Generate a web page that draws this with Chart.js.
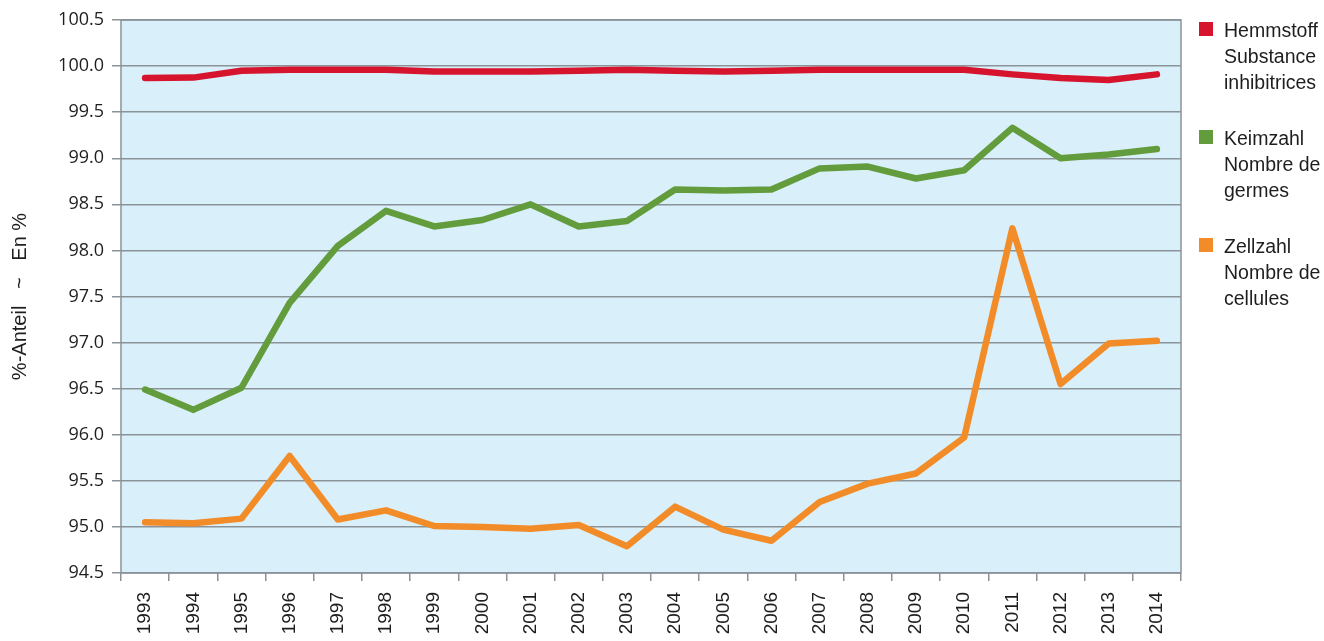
<!DOCTYPE html>
<html>
<head>
<meta charset="utf-8">
<script src="https://cdn.jsdelivr.net/npm/chart.js@4"></script>
<style>
html,body{margin:0;padding:0;background:#fff;}
#wrap{position:relative;width:1324px;height:641px;overflow:hidden;}
canvas{position:absolute;left:0;top:0;}
.lg{position:absolute;left:1199px;font-family:"Liberation Sans",Arial,sans-serif;font-size:19.5px;line-height:26px;color:#1e1e1e;}
.lg .sw{position:absolute;left:0;top:5px;width:14px;height:14px;}
.lg .tx{position:absolute;left:25px;top:0;white-space:nowrap;}
</style>
</head>
<body>
<div id="wrap">
<canvas id="c" width="1324" height="641"></canvas>
<div class="lg" style="top:17px"><div class="sw" style="background:#d7142e"></div><div class="tx">Hemmstoff<br>Substance<br>inhibitrices</div></div>
<div class="lg" style="top:125px"><div class="sw" style="background:#639c3d"></div><div class="tx">Keimzahl<br>Nombre de<br>germes</div></div>
<div class="lg" style="top:233px"><div class="sw" style="background:#f28c28"></div><div class="tx">Zellzahl<br>Nombre de<br>cellules</div></div>
</div>
<script>
const years = ["1993","1994","1995","1996","1997","1998","1999","2000","2001","2002","2003","2004","2005","2006","2007","2008","2009","2010","2011","2012","2013","2014"];
const hemmstoff = [99.87,99.875,99.95,99.96,99.96,99.96,99.94,99.94,99.94,99.95,99.96,99.95,99.94,99.95,99.96,99.96,99.96,99.96,99.91,99.87,99.85,99.91];
const keimzahl = [96.49,96.27,96.51,97.43,98.05,98.43,98.26,98.33,98.50,98.26,98.32,98.66,98.65,98.66,98.89,98.91,98.78,98.87,99.33,99.00,99.04,99.10];
const zellzahl = [95.05,95.04,95.09,95.77,95.08,95.18,95.01,95.00,94.98,95.02,94.79,95.22,94.97,94.85,95.27,95.47,95.58,95.97,98.24,96.55,96.99,97.02];
const seriesNames = ["Hemmstoff","Keimzahl","Zellzahl"];
const yMin = 94.5, yMax = 100.5, yStep = 0.5;

const bgPlugin = {
  id:'bg',
  beforeDraw(chart){
    const {ctx, chartArea:a} = chart;
    ctx.save();
    ctx.fillStyle = '#d9eff9';
    ctx.fillRect(a.left, a.top, a.right-a.left, a.bottom-a.top);
    ctx.restore();
  },
  afterDatasetsDraw(chart){
    const {ctx, chartArea:a} = chart;
    ctx.save();
    ctx.strokeStyle = '#8c9398';
    ctx.lineWidth = 1.5;
    ctx.strokeRect(a.left, a.top, a.right-a.left, a.bottom-a.top);
    ctx.restore();
  }
};

new Chart(document.getElementById('c'), {
  type:'line',
  data:{
    labels: years,
    datasets:[
      {label:seriesNames[0], data:hemmstoff, borderColor:'#d7142e', borderWidth:6.5, pointRadius:0, tension:0, borderCapStyle:'round', borderJoinStyle:'round'},
      {label:seriesNames[1], data:keimzahl, borderColor:'#639c3d', borderWidth:6.5, pointRadius:0, tension:0, borderCapStyle:'round', borderJoinStyle:'round'},
      {label:seriesNames[2], data:zellzahl, borderColor:'#f28c28', borderWidth:6.5, pointRadius:0, tension:0, borderCapStyle:'round', borderJoinStyle:'round'}
    ]
  },
  options:{
    responsive:false,
    animation:false,
    devicePixelRatio:1,
    layout:{padding:{top:20, right:143, left:0, bottom:0}},
    plugins:{legend:{display:false}, tooltip:{enabled:false}},
    scales:{
      x:{
        offset:true,
        afterFit:(s)=>{ s.height = 68; },
        grid:{offset:true, drawOnChartArea:false, drawTicks:true, tickLength:8, color:'#8c9398', lineWidth:1.5},
        border:{display:false},
        ticks:{maxRotation:90, minRotation:90, autoSkip:false, color:'#1e1e1e', padding:11,
          font:{family:'"Liberation Sans", Arial, sans-serif', size:19}}
      },
      y:{
        min:yMin, max:yMax,
        afterFit:(s)=>{ s.width = 121; },
        grid:{color:'#8c9398', lineWidth:1.5, tickLength:9},
        border:{display:false},
        ticks:{stepSize:yStep, color:'#1e1e1e', padding:8,
          font:{family:'"Open Sans", Lato, sans-serif', size:18},
          callback:(v)=>Number(v).toFixed(1)},
        title:{display:true, text:'%-Anteil   ~   En %', color:'#1e1e1e', padding:{top:8,bottom:0},
          font:{family:'"Liberation Sans", Arial, sans-serif', size:20}}
      }
    }
  },
  plugins:[bgPlugin]
});
</script>
</body>
</html>
